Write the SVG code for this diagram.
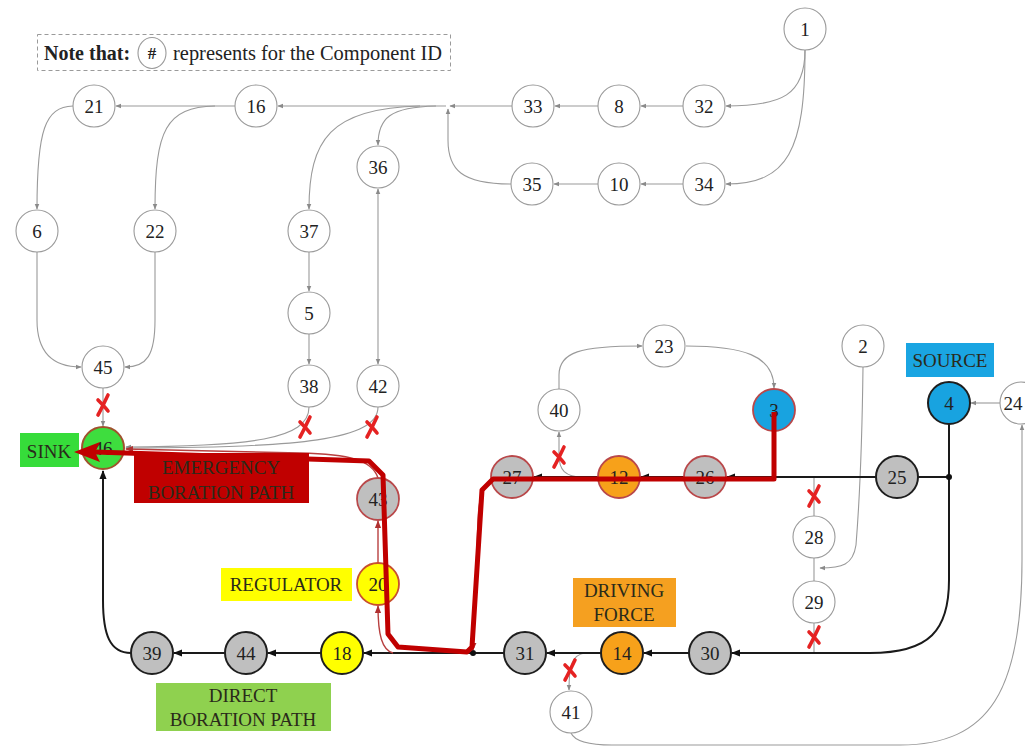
<svg xmlns="http://www.w3.org/2000/svg" xmlns:xlink="http://www.w3.org/1999/xlink" width="1025" height="749" viewBox="0 0 1025 749">
  <style>
    .lbl { font-family: "Liberation Serif", "Times New Roman", serif; font-size: 19px; text-anchor: middle; dominant-baseline: central; fill: #222; }
    .box { font-family: "Liberation Serif", "Times New Roman", serif; font-size: 19px; text-anchor: middle; dominant-baseline: central; fill: #2a2a1a; }
    .w { fill: #fff; stroke: #9a9a9a; stroke-width: 1.1; }
    .gk { fill: #bfbfbf; stroke: #1e1e1e; stroke-width: 2; }
    .gr { fill: #bfbfbf; stroke: #b9484a; stroke-width: 1.8; }
    .ok { fill: #f7a11a; stroke: #1e1e1e; stroke-width: 2; }
    .or { fill: #f7a11a; stroke: #b9484a; stroke-width: 1.8; }
    .yk { fill: #ffff00; stroke: #1e1e1e; stroke-width: 2; }
    .yr { fill: #ffff00; stroke: #c8502e; stroke-width: 1.8; }
    .bk { fill: #18a3e0; stroke: #1e1e1e; stroke-width: 2; }
    .br { fill: #18a3e0; stroke: #b9484a; stroke-width: 1.8; }
    .gn { fill: #3edd3e; stroke: #a0522d; stroke-width: 2; }
    .g { fill: none; stroke: #9a9a9a; stroke-width: 1.1; }
    .ga { fill: none; stroke: #9a9a9a; stroke-width: 1.1; marker-end: url(#ag); }
    .k { fill: none; stroke: #1a1a1a; stroke-width: 2; }
    .ka { fill: none; stroke: #1a1a1a; stroke-width: 2; marker-end: url(#ak); }
    .ra { fill: none; stroke: #b84040; stroke-width: 1.4; marker-end: url(#ar); }
    .xm { fill: none; stroke: #e52222; stroke-width: 3.6; stroke-linecap: round; }
  </style>
  <defs>
    <marker id="ag" viewBox="0 0 10 10" refX="9" refY="5" markerWidth="6" markerHeight="6" orient="auto" markerUnits="userSpaceOnUse">
      <path d="M0,1 L10,5 L0,9 z" fill="#8a8a8a"/>
    </marker>
    <marker id="ags" viewBox="0 0 10 10" refX="9" refY="5" markerWidth="6" markerHeight="6" orient="auto-start-reverse" markerUnits="userSpaceOnUse">
      <path d="M0,1 L10,5 L0,9 z" fill="#8a8a8a"/>
    </marker>
    <marker id="ak" viewBox="0 0 10 10" refX="9" refY="5" markerWidth="9" markerHeight="9" orient="auto" markerUnits="userSpaceOnUse">
      <path d="M0,1 L10,5 L0,9 z" fill="#111"/>
    </marker>
    <marker id="ar" viewBox="0 0 10 10" refX="9" refY="5" markerWidth="8" markerHeight="8" orient="auto" markerUnits="userSpaceOnUse">
      <path d="M0,1 L10,5 L0,9 z" fill="#b03030"/>
    </marker>
    <g id="xmark" class="xm">
      <path d="M5,-10 C2,-4 -1,3 -5,10"/>
      <path d="M-5,-5 C-1,-1 2,2 5,6"/>
    </g>
  </defs>

  <!-- legend -->
  <g id="legend">
    <rect x="37.5" y="34.5" width="413" height="36" fill="#fff" stroke="#9a9a9a" stroke-width="1" stroke-dasharray="4,3"/>
    <text x="44" y="53" font-family="Liberation Serif, serif" font-size="20" font-weight="bold" dominant-baseline="central" fill="#222">Note that:</text>
    <ellipse cx="152" cy="53" rx="14" ry="15.5" fill="#fff" stroke="#9a9a9a" stroke-width="1.1"/>
    <text x="152" y="53" font-family="Liberation Serif, serif" font-size="17" font-weight="bold" text-anchor="middle" dominant-baseline="central" fill="#222">#</text>
    <text x="173" y="53" font-family="Liberation Serif, serif" font-size="20" dominant-baseline="central" fill="#222" textLength="269" lengthAdjust="spacingAndGlyphs">represents for the Component ID</text>
  </g>

  <!-- connectors -->
  <g id="connectors">
    <!-- upper network (grey) -->
    <path class="ga" d="M805,50 C805,95 782,106 726,106"/>
    <path class="ga" d="M805,50 C805,150 788,184 726,184"/>
    <path class="ga" d="M683,106 L641,106"/>
    <path class="ga" d="M598,106 L555,106"/>
    <path class="ga" d="M512,106 L450,106"/>
    <path class="ga" d="M683,184 L641,184"/>
    <path class="ga" d="M598,184 L554,184"/>
    <path class="ga" d="M511,184 C462,184 448,170 448,140 L448,109"/>
    <path class="ga" d="M446,106 L278,106"/>
    <path class="ga" d="M235,106 L116,106"/>
    <path class="ga" d="M73,106 C45,107 37,130 37,209"/>
    <path class="ga" d="M215,106 C166,107 155,130 155,209"/>
    <path class="ga" d="M420,106 C330,108 309,140 309,209"/>
    <path class="ga" d="M436,106 C390,107 378,118 378,145"/>
    <path class="ga" d="M309,252 L309,291"/>
    <path class="ga" d="M309,334 L309,364"/>
    <path class="g" d="M378,189 L378,364" marker-start="url(#ags)" marker-end="url(#ag)"/>
    <path class="ga" d="M37,252 L37,320 C37,355 55,367 81,367"/>
    <path class="ga" d="M155,252 L155,320 C155,355 147,367 125,367"/>
    <path class="ga" d="M103,388 L103,426"/>
    <path class="ga" d="M309,407 C309,440 250,446 126,447"/>
    <path class="ga" d="M378,407 C378,440 300,448 126,448"/>

    <!-- loop over 40 / 23 / 3 -->
    <path class="ga" d="M583,477 C565,477 559,470 559,455 L559,432"/>
    <path class="ga" d="M559,389 L559,375 C559,352 580,346 642,346"/>
    <path class="ga" d="M686,346 C742,346 774,355 774,388"/>

    <!-- 2, 28, 29 branch -->
    <path class="ga" d="M863,367 C862,450 858,520 856,545 C853,565 842,568 820,568"/>
    <path class="g" d="M814,477 L814,516"/>
    <path class="g" d="M814,558 L814,581"/>
    <path class="g" d="M814,623 L814,653"/>

    <!-- 24 loop -->
    <path class="ga" d="M1000,403 L971,403"/>
    <path class="ga" d="M571,733 C575,742 590,745 612,745 L900,745 C990,745 1022,690 1022,560 L1022,425"/>
    <path class="ga" d="M585,653 C572,655 569,665 569,690"/>

    <!-- main loop (black) -->
    <path class="k" d="M949,424 L949,477"/>
    <path class="k" d="M918,477 L949,477"/>
    <path class="ka" d="M949,477 L949,580 C949,630 930,653 870,653 L732,653"/>
    <path class="ka" d="M876,477 L727,477"/>
    <path class="ka" d="M684,477 L641,477"/>
    <path class="ka" d="M598,477 L534,477"/>
    <path class="ka" d="M689,653 L644,653"/>
    <path class="ka" d="M601,653 L547,653"/>
    <path class="ka" d="M504,653 L364,653"/>
    <path class="ka" d="M321,653 L268,653"/>
    <path class="ka" d="M225,653 L174,653"/>
    <path class="ka" d="M131,653 C110,653 103,635 103,600 L103,471"/>
    <circle cx="949" cy="477" r="3" fill="#111"/>
    <circle cx="473" cy="653" r="3" fill="#111"/>

    <!-- thin red links -->
    <path class="ra" d="M491,482 C481,490 479,500 478,520 L473,650"/>
    <path class="ra" d="M393,653 C382,650 378,635 378,606"/>
    <path class="ra" d="M378,563 L378,521"/>
    <path class="ra" d="M378,478 C372,460 350,454 300,453 L126,449"/>
  </g>

  <!-- colored labels -->
  <g id="tags">
    <rect x="906" y="343" width="88" height="34" fill="#1aa5e2"/>
    <text class="box" x="950" y="360">SOURCE</text>
    <rect x="20" y="433" width="59" height="34" fill="#36dc3a"/>
    <text class="box" x="49" y="451">SINK</text>
    <rect x="134" y="453" width="175" height="50" fill="#c00000"/>
    <text class="box" x="221" y="467" fill="#300808">EMERGENCY</text>
    <text class="box" x="221" y="492" fill="#300808">BORATION PATH</text>
    <rect x="221" y="568" width="131" height="33" fill="#ffff00"/>
    <text class="box" x="286" y="584">REGULATOR</text>
    <rect x="573" y="578" width="103" height="49" fill="#f5a020"/>
    <text class="box" x="624" y="590">DRIVING</text>
    <text class="box" x="624" y="614">FORCE</text>
    <rect x="156" y="683" width="175" height="48" fill="#8fd14f"/>
    <text class="box" x="243" y="695">DIRECT</text>
    <text class="box" x="243" y="719">BORATION PATH</text>
  </g>

  <!-- component nodes -->
  <g id="n1"><circle class="w" cx="805" cy="29" r="21"/><text class="lbl" x="805" y="29">1</text></g>
  <g id="n32"><circle class="w" cx="704" cy="106" r="21"/><text class="lbl" x="704" y="106">32</text></g>
  <g id="n8"><circle class="w" cx="619" cy="106" r="21"/><text class="lbl" x="619" y="106">8</text></g>
  <g id="n33"><circle class="w" cx="533" cy="106" r="21"/><text class="lbl" x="533" y="106">33</text></g>
  <g id="n16"><circle class="w" cx="256" cy="106" r="21"/><text class="lbl" x="256" y="106">16</text></g>
  <g id="n21"><circle class="w" cx="94" cy="106" r="21"/><text class="lbl" x="94" y="106">21</text></g>
  <g id="n36"><circle class="w" cx="378" cy="167" r="21"/><text class="lbl" x="378" y="167">36</text></g>
  <g id="n35"><circle class="w" cx="532" cy="184" r="21"/><text class="lbl" x="532" y="184">35</text></g>
  <g id="n10"><circle class="w" cx="619" cy="184" r="21"/><text class="lbl" x="619" y="184">10</text></g>
  <g id="n34"><circle class="w" cx="704" cy="184" r="21"/><text class="lbl" x="704" y="184">34</text></g>
  <g id="n6"><circle class="w" cx="37" cy="231" r="21"/><text class="lbl" x="37" y="231">6</text></g>
  <g id="n22"><circle class="w" cx="155" cy="231" r="21"/><text class="lbl" x="155" y="231">22</text></g>
  <g id="n37"><circle class="w" cx="309" cy="231" r="21"/><text class="lbl" x="309" y="231">37</text></g>
  <g id="n5"><circle class="w" cx="309" cy="313" r="21"/><text class="lbl" x="309" y="313">5</text></g>
  <g id="n45"><circle class="w" cx="103" cy="367" r="21"/><text class="lbl" x="103" y="367">45</text></g>
  <g id="n38"><circle class="w" cx="309" cy="386" r="21"/><text class="lbl" x="309" y="386">38</text></g>
  <g id="n42"><circle class="w" cx="378" cy="386" r="21"/><text class="lbl" x="378" y="386">42</text></g>
  <g id="n23"><circle class="w" cx="664" cy="346" r="21"/><text class="lbl" x="664" y="346">23</text></g>
  <g id="n2"><circle class="w" cx="863" cy="346" r="21"/><text class="lbl" x="863" y="346">2</text></g>
  <g id="n40"><circle class="w" cx="559" cy="410" r="21"/><text class="lbl" x="559" y="410">40</text></g>
  <g id="n3"><circle class="br" cx="774" cy="410" r="21"/><text class="lbl" x="774" y="410" fill="#1a2a55">3</text></g>
  <g id="n4"><circle class="bk" cx="949" cy="403" r="21"/><text class="lbl" x="949" y="403" fill="#1a2a55">4</text></g>
  <g id="n24"><circle class="w" cx="1021" cy="403" r="21"/><text class="lbl" x="1013" y="403">24</text></g>
  <g id="n27"><circle class="gr" cx="512" cy="477" r="21"/><text class="lbl" x="512" y="477">27</text></g>
  <g id="n12"><circle class="or" cx="619" cy="477" r="21"/><text class="lbl" x="619" y="477">12</text></g>
  <g id="n26"><circle class="gr" cx="705" cy="477" r="21"/><text class="lbl" x="705" y="477">26</text></g>
  <g id="n25"><circle class="gk" cx="897" cy="477" r="21"/><text class="lbl" x="897" y="477">25</text></g>
  <g id="n28"><circle class="w" cx="814" cy="537" r="21"/><text class="lbl" x="814" y="537">28</text></g>
  <g id="n29"><circle class="w" cx="814" cy="602" r="21"/><text class="lbl" x="814" y="602">29</text></g>
  <g id="n46"><circle class="gn" cx="103" cy="448" r="21"/><text class="lbl" x="103" y="448">46</text></g>
  <g id="n43"><circle class="gr" cx="378" cy="499" r="21"/><text class="lbl" x="378" y="499">43</text></g>
  <g id="n20"><circle class="yr" cx="378" cy="584" r="21"/><text class="lbl" x="378" y="584">20</text></g>
  <g id="n39"><circle class="gk" cx="152" cy="653" r="21"/><text class="lbl" x="152" y="653">39</text></g>
  <g id="n44"><circle class="gk" cx="246" cy="653" r="21"/><text class="lbl" x="246" y="653">44</text></g>
  <g id="n18"><circle class="yk" cx="342" cy="653" r="21"/><text class="lbl" x="342" y="653">18</text></g>
  <g id="n31"><circle class="gk" cx="525" cy="653" r="21"/><text class="lbl" x="525" y="653">31</text></g>
  <g id="n14"><circle class="ok" cx="622" cy="653" r="21"/><text class="lbl" x="622" y="653">14</text></g>
  <g id="n30"><circle class="gk" cx="710" cy="653" r="21"/><text class="lbl" x="710" y="653">30</text></g>
  <g id="n41"><circle class="w" cx="571" cy="712" r="21"/><text class="lbl" x="571" y="712">41</text></g>

  <!-- broken links -->
  <g id="breaks">
    <use xlink:href="#xmark" x="103" y="405"/>
    <use xlink:href="#xmark" x="305" y="427"/>
    <use xlink:href="#xmark" x="372" y="427"/>
    <use xlink:href="#xmark" x="559" y="457"/>
    <use xlink:href="#xmark" x="814" y="496"/>
    <use xlink:href="#xmark" x="814" y="637"/>
    <use xlink:href="#xmark" x="570" y="670"/>
  </g>

  <!-- emergency boration flow path -->
  <g id="flow">
    <path d="M774,412 L774,479 L493,479 L482,490 L472,647 L467,652 L398,647 L388,634 L383,475 L369,461 L95,452" fill="none" stroke="#c00000" stroke-width="5" stroke-linejoin="round"/>
    <polygon points="74,452 100,442 95,452 100,462" fill="#c00000"/>
  </g>
</svg>
